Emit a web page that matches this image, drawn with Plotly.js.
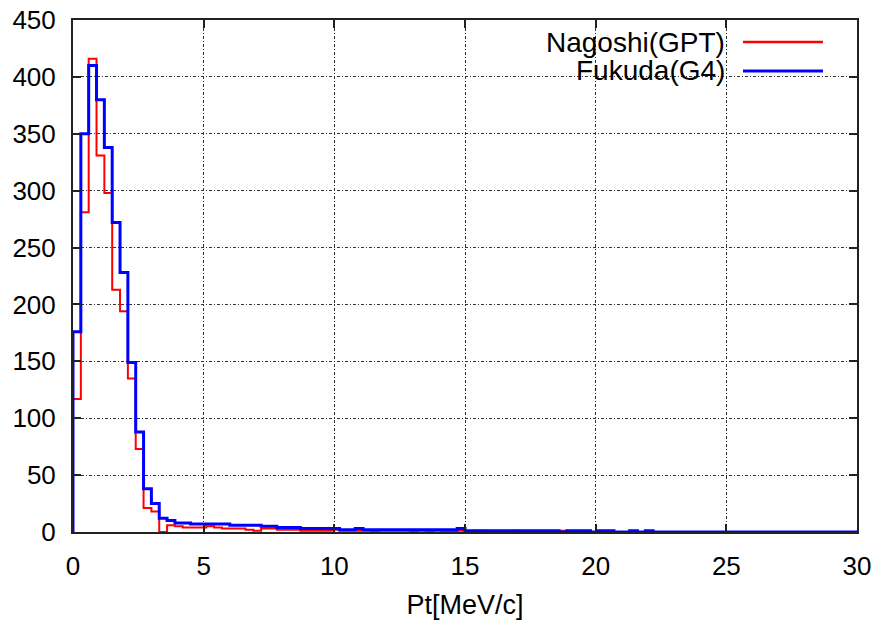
<!DOCTYPE html>
<html>
<head>
<meta charset="utf-8">
<script src="https://cdn.plot.ly/plotly-3.0.1.min.js"></script>
<style>
  html, body { margin: 0; padding: 0; background: #fff; }
  #chart { width: 878px; height: 620px; }
</style>
</head>
<body>
<div id="chart"></div>
<script>
// Histogram binning (Pt in MeV/c)
const binStart = 0;
const binWidth = 0.3;

// Series names
const seriesNames = ["Nagoshi(GPT)", "Fukuda(G4)"];

// Counts per bin, Nagoshi(GPT)
const nagoshiCounts = [
  117, 281, 416, 331, 298, 213, 194, 135, 73, 21,
  18, 0, 6, 5, 4, 4, 4, 5, 4, 3,
  3, 3, 2, 1, 3, 3, 2, 2, 2, 1,
  1, 1, 1, 2, 1, 1, 1, 1, 0, 1,
  1, 1, 1, 0, 1, 0, 1, 0, 0, 1,
  0, 1, 1, 0, 0, 0, 1, 0, 0, 0,
  0, 0, 1, 0, 0, 0, 0, 0, 0, 0,
  0, 0, 0, 0, 0, 0, 0, 0, 0, 0,
  0, 0, 0, 0, 0, 0, 0, 0, 0, 0,
  0, 0, 0, 0, 0, 0, 0, 0, 0, 0
];

// Counts per bin, Fukuda(G4)
const fukudaCounts = [
  176, 350, 410, 380, 338, 272, 228, 149, 88, 38,
  25, 12, 10, 8, 8, 7, 7, 7, 7, 7,
  6, 6, 6, 6, 5, 5, 4, 4, 4, 3,
  3, 3, 3, 3, 2, 2, 3, 2, 2, 2,
  2, 2, 2, 2, 2, 2, 2, 2, 2, 3,
  1, 1, 1, 1, 1, 1, 1, 1, 1, 1,
  1, 1, 0, 1, 1, 1, 0, 1, 1, 0,
  0, 1, 0, 1, 0, 0, 0, 0, 0, 0,
  0, 0, 0, 0, 0, 0, 0, 0, 0, 0,
  0, 0, 0, 0, 0, 0, 0, 0, 0, 0
];

// Axis ticks
const xTickVals = [0, 5, 10, 15, 20, 25, 30];
const yTickVals = [0, 50, 100, 150, 200, 250, 300, 350, 400, 450];
const xTitle = "Pt[MeV/c]";

function stepPoints(counts) {
  const xs = [binStart];
  const ys = [0];
  for (let i = 0; i < counts.length; i++) {
    xs.push(binStart + i * binWidth);
    ys.push(counts[i]);
  }
  xs.push(binStart + counts.length * binWidth);
  ys.push(counts[counts.length - 1]);
  return { xs, ys };
}

const red = stepPoints(nagoshiCounts);
const blue = stepPoints(fukudaCounts);

const traces = [
  { type: "scatter", mode: "lines", name: seriesNames[0], x: red.xs, y: red.ys,
    line: { shape: "hv", color: "#ff0000", width: 2 }, hoverinfo: "skip" },
  { type: "scatter", mode: "lines", name: seriesNames[1], x: blue.xs, y: blue.ys,
    line: { shape: "hv", color: "#0000ff", width: 3 }, hoverinfo: "skip" }
];

const font = { family: "Liberation Sans, Arial, sans-serif", size: 26, color: "#000" };
const legendFont = Object.assign({}, font, { size: 28 });

const axisCommon = {
  showline: true, linecolor: "#222", linewidth: 2, mirror: "allticks",
  ticks: "inside", ticklen: 8, tickwidth: 2, tickcolor: "#222",
  showgrid: true, gridcolor: "#333", gridwidth: 1, griddash: "3px,2px,1px,2px",
  zeroline: false, tickfont: font
};

const layout = {
  width: 878, height: 620,
  margin: { l: 73, r: 21, t: 20, b: 88 },
  paper_bgcolor: "#fff", plot_bgcolor: "#fff",
  showlegend: false,
  font: font,
  xaxis: Object.assign({}, axisCommon, {
    range: [0, 30], tickvals: xTickVals, ticktext: xTickVals.map(String),
    ticklabelstandoff: 10,
    title: { text: xTitle, font: Object.assign({}, font, { size: 27 }), standoff: 16 }
  }),
  yaxis: Object.assign({}, axisCommon, {
    range: [0, 450], tickvals: yTickVals, ticktext: yTickVals.map(String),
    ticklabelstandoff: 10
  }),
  shapes: [
    { type: "rect", xref: "paper", yref: "paper", x0: 0.5485, x1: 0.978, y0: 0.873, y1: 0.986,
      fillcolor: "#fff", line: { width: 0 }, layer: "between" },
    { type: "line", xref: "paper", yref: "paper", x0: 0.8546, x1: 0.9566, y0: 0.957, y1: 0.957,
      line: { color: "#ff0000", width: 2.5 } },
    { type: "line", xref: "paper", yref: "paper", x0: 0.8546, x1: 0.9566, y0: 0.9004, y1: 0.9004,
      line: { color: "#0000ff", width: 3 } }
  ],
  annotations: [
    { xref: "paper", yref: "paper", x: 0.834, y: 0.957, xanchor: "right", yanchor: "middle",
      text: seriesNames[0], showarrow: false, font: legendFont },
    { xref: "paper", yref: "paper", x: 0.834, y: 0.9004, xanchor: "right", yanchor: "middle",
      text: seriesNames[1], showarrow: false, font: legendFont }
  ]
};

Plotly.newPlot("chart", traces, layout, { staticPlot: true, displayModeBar: false });
</script>
</body>
</html>
